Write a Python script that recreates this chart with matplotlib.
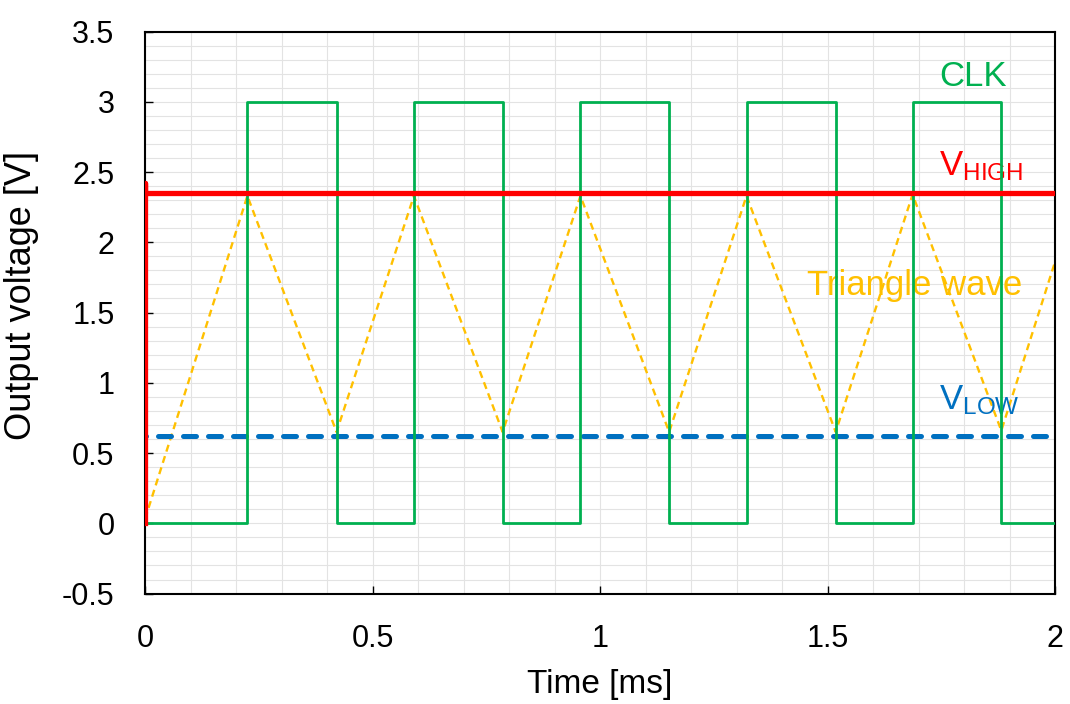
import matplotlib
matplotlib.use("Agg")
import matplotlib.pyplot as plt
from matplotlib.ticker import MultipleLocator

plt.rcParams['font.family'] = ['Liberation Sans', 'DejaVu Sans']
plt.rcParams['mathtext.fontset'] = 'custom'
plt.rcParams['mathtext.rm'] = 'Liberation Sans'

# CLK square wave (step-post), edges
clk_t = [0.0, 0.225, 0.421, 0.591, 0.786, 0.957, 1.152, 1.322, 1.518, 1.687, 1.882, 2.0]
clk_v = [0, 3, 0, 3, 0, 3, 0, 3, 0, 3, 0, 0]

# triangle wave corners
tri_t = [0.0, 0.225, 0.421, 0.591, 0.786, 0.957, 1.152, 1.322, 1.518, 1.687, 1.882, 2.0]
tri_v = [0.03, 2.33, 0.65, 2.33, 0.65, 2.33, 0.65, 2.33, 0.65, 2.34, 0.66, 1.86]

# threshold lines
vhigh_t = [0.0, 0.0, 0.0, 2.0]
vhigh_v = [0.0, 2.42, 2.35, 2.35]
vlow_t = [0.0, 0.0, 2.0]
vlow_v = [0.0, 0.62, 0.62]

green = '#00B050'
red = '#FF0000'
orange = '#FFC000'
blue = '#0070C0'

fig = plt.figure(figsize=(10.7, 7.04), dpi=100)
ax = fig.add_axes([145/1070, 1 - 593.6/704, 910/1070, 562.1/704])

ax.plot(tri_t, tri_v, color=orange, lw=1.7, dashes=(3, 2), zorder=2)
ax.plot(vlow_t, vlow_v, color=blue, lw=3.6, dashes=(2.6, 2.4),
        dash_capstyle='round', zorder=3)
ax.plot(clk_t, clk_v, color=green, lw=2.0, drawstyle='steps-post', zorder=4)
ax.plot(vhigh_t, vhigh_v, color=red, lw=3.8, zorder=5)

ax.set_xlim(0, 2)
ax.set_ylim(-0.5, 3.5)
ax.xaxis.set_major_locator(MultipleLocator(0.5))
ax.xaxis.set_minor_locator(MultipleLocator(0.1))
ax.yaxis.set_major_locator(MultipleLocator(0.5))
ax.yaxis.set_minor_locator(MultipleLocator(0.1))
ax.xaxis.set_major_formatter(plt.FuncFormatter(lambda v, p: ('%g' % v)))
ax.yaxis.set_major_formatter(plt.FuncFormatter(lambda v, p: ('%g' % v)))
ax.grid(which='both', color='#e3e3e3', lw=0.8, zorder=0)
ax.set_axisbelow(True)
ax.tick_params(which='major', direction='in', length=6, width=1, labelsize=22, pad=22)
ax.tick_params(which='minor', length=0)
for s in ax.spines.values():
    s.set_color('black')
    s.set_linewidth(1.5)

ax.set_xlabel('Time [ms]', fontsize=24)
ax.set_ylabel('Output voltage [V]', fontsize=26)
ax.xaxis.set_label_coords(0.5, -0.135)
ax.yaxis.set_label_coords(-0.117, 0.53)

ax.text(1.819, 3.11, 'CLK', color=green, fontsize=25, ha='center', va='baseline')
ax.text(1.744, 2.48, r'$\mathrm{V_{HIGH}}$', color=red, fontsize=25, ha='left', va='baseline')
ax.text(1.927, 1.625, 'Triangle wave', color=orange, fontsize=25, ha='right', va='baseline')
ax.text(1.744, 0.81, r'$\mathrm{V_{LOW}}$', color=blue, fontsize=25, ha='left', va='baseline')

fig.savefig('out.png', dpi=100)
